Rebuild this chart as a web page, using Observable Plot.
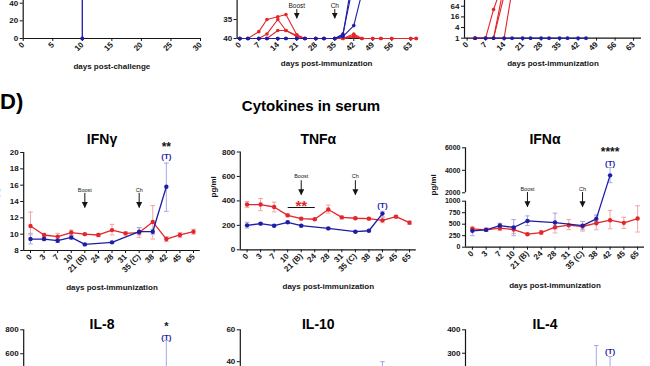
<!DOCTYPE html>
<html>
<head>
<meta charset="utf-8">
<script src="https://cdn.jsdelivr.net/npm/d3@7"></script>
<script src="https://cdn.jsdelivr.net/npm/@observablehq/plot@0.6"></script>
<style>
  html, body { margin: 0; padding: 0; background: #fff; }
  #fig { position: relative; width: 650px; height: 366px; overflow: hidden; background: #fff;
         font-family: "Liberation Sans", Arial, Helvetica, sans-serif; color: #151515; }
  #fig svg { position: absolute; left: 0; top: -100px; }
  .htxt { position: absolute; font-weight: bold; line-height: 1; white-space: nowrap; color: #000; }
</style>
</head>
<body>
<div id="fig">
  <div class="htxt" style="left:0px; top:91px; font-size:22px;">D)</div>
  <div class="htxt" style="left:311px; top:98px; font-size:15px; transform:translateX(-50%);">Cytokines in serum</div>
</div>
<script>
// ================= DATA =================
// top row, left: survival after challenge
const survDaysBlue = [0, 10];
const survBlue = [100, 0];
const survDaysRed = [0, 30];
const survRed = [100, 100];
const survTicksX = [0, 5, 10, 15, 20, 25, 30];
const survTicksY = [0, 20, 40];

// top row, middle: Ct values per animal
const ctDays = [0, 3, 7, 10, 14, 17, 21, 24, 28, 31, 35, 38, 42, 45, 49, 52, 56, 63, 65];
const ctRedA = [40, 40, 38.2, 35.0, 34.3, 33.7, 39.0, 40, 40, 40, 40, 40, 39.3, 40, 40, 40, 40, 40, 40];
const ctRedB = [40, 40, 40, 38.8, 35.0, 37.9, 39.2, 40, 40, 40, 40, 40, 38.8, 40, 40, 40, 40, 40, 40];
const ctRedC = [40, 40, 40, 40, 37.9, 37.9, 39.5, 40, 40, 40, 40, 40, 39.6, 40, 40, 40, 40, 40, 40];
const ctBlueA = [40, 40, 40, 40, 40, 40, 40, 40, 40, 40, 40, 39.5, 36.6, 28, null, null, null, null, null];
const ctBlueB = [40, 40, 40, 40, 40, 40, 40, 40, 40, 40, 40, 38.8, 25, null, null, null, null, null, null];
const ctBlueC = [40, 40, 40, 40, 40, 40, 40, 40, 40, 40, 40, 39.2, 22, null, null, null, null, null, null];
const ctTicksX = [0, 7, 14, 21, 28, 35, 42, 49, 56, 63];
const ctTicksY = [35, 40];
const topEvents = [{label: "Boost", day: 21}, {label: "Ch", day: 35}];

// top row, right: titers per animal (log2)
const titerDays = [3, 7, 10, 14, 17, 21, 24, 28, 31, 35, 38, 42, 45];
const titerRedA = [1, 1, 42, 2048, 4096, 4096, 4096, 2048, 2048, 2048, 4096, 4096, 4096];
const titerRedB = [1, 1, 1, 1024, 2048, 2048, 2048, 2048, 1024, 1024, 2048, 2048, 2048];
const titerRedC = [1, 1, 1, 256, 1024, 1024, 1024, 1024, 1024, 512, 1024, 1024, 1024];
const titerRedD = [1, 1, 1, 1, 512, 1024, 1024, 1024, 512, 512, 1024, 1024, 1024];
const titerBlue = [1, 1, 1, 1, 1, 1, 1, 1, 1, 1, 1, 1, 1];
const titerTicksX = [0, 7, 14, 21, 28, 35, 42, 49, 56, 63];
const titerTicksY = [1, 4, 16, 64];

// cytokines: sampling days (categorical)
const days = ["0", "3", "7", "10", "21 (B)", "24", "28", "31", "35 (C)", "38", "42", "45", "65"];
const events = [{label: "Boost", day: "21 (B)"}, {label: "Ch", day: "35 (C)"}];

// IFN-gamma
const ifngRed   = [11.0, 9.9, 9.7, 10.2, 10.0, 9.9, 10.5, 10.1, 10.2, 11.5, 9.4, 9.9, 10.3];
const ifngRedHi = [12.7, 10.1, 10.1, 10.5, 10.1, 10.1, 11.2, 10.3, 10.8, 13.5, 9.7, 10.2, 10.6];
const ifngRedLo = [9.9, 9.7, 9.4, 9.9, 9.9, 9.7, 9.9, 9.9, 9.6, 9.4, 9.1, 9.6, 10.0];
const ifngBlue   = [9.4, 9.4, 9.2, 9.6, 8.75, null, 9.0, null, 10.3, 10.3, 15.8, null, null];
const ifngBlueHi = [10.1, 9.6, 9.4, 9.8, 8.85, null, 9.1, null, 10.8, 10.6, 18.7, null, null];
const ifngBlueLo = [8.8, 9.2, 9.0, 9.4, 8.65, null, 8.9, null, 9.9, 10.0, 12.8, null, null];
const ifngTicks = [8, 10, 12, 14, 16, 18, 20];

// TNF-alpha
const tnfRed   = [370, 370, 350, 282, 255, 250, 330, 265, 258, 255, 241, 271, 222];
const tnfRedHi = [395, 420, 390, 295, 265, 258, 365, 275, 268, 265, 262, 282, 235];
const tnfRedLo = [345, 320, 310, 270, 245, 242, 300, 255, 248, 245, 222, 260, 208];
const tnfBlue   = [200, 214, 197, 225, 197, null, 175, null, 148, 156, 296, null, null];
const tnfBlueHi = [225, 222, 205, 233, 205, null, 182, null, 155, 163, 315, null, null];
const tnfBlueLo = [178, 206, 189, 217, 189, null, 168, null, 141, 149, 270, null, null];
const tnfTicks = [0, 200, 400, 600, 800];

// IFN-alpha (broken y axis: 0-1000 and 2000-6000)
const ifnaRed   = [400, 377, 413, 384, 283, 319, 435, 478, 450, 522, 587, 529, 623];
const ifnaRedHi = [440, 420, 470, 450, 305, 360, 550, 600, 560, 680, 800, 650, 900];
const ifnaRedLo = [360, 340, 360, 300, 260, 280, 310, 380, 350, 380, 400, 410, 330];
const ifnaBlue   = [355, 377, 471, 428, 572, null, 536, null, 470, 616, 3550, null, null];
const ifnaBlueHi = [400, 410, 520, 600, 680, null, 740, null, 560, 700, 4250, null, null];
const ifnaBlueLo = [250, 350, 420, 250, 470, null, 400, null, 380, 560, 2900, null, null];
const ifnaTicks = [0, 250, 500, 750, 1000, 2000, 4000, 6000];
const ifnaBreaks = [0, 1000, 2000, 6000];

// bottom row (only the upper part is in view)
const none = [null, null, null, null, null, null, null, null, null, null, null, null, null];
const il8Blue   = [null, null, null, null, null, null, null, null, null, null, 350, null, null];
const il8BlueHi = [null, null, null, null, null, null, null, null, null, null, 711, null, null];
const il8BlueLo = [null, null, null, null, null, null, null, null, null, null, 120, null, null];
const il8Ticks = [600, 800];
const il10Blue   = [null, null, null, null, null, null, null, null, null, null, 22, null, null];
const il10BlueHi = [null, null, null, null, null, null, null, null, null, null, 40, null, null];
const il10BlueLo = [null, null, null, null, null, null, null, null, null, null, 8, null, null];
const il10Ticks = [40, 60];
const il4Blue   = [null, null, null, null, null, null, null, null, null, 150, 190, null, null];
const il4BlueHi = [null, null, null, null, null, null, null, null, null, 333, 286, null, null];
const il4BlueLo = [null, null, null, null, null, null, null, null, null, 60, 100, null, null];
const il4Ticks = [300, 400];

// ================= DRAWING =================
const OFF = 100, W = 650, H = 466;
const FONT = '"Liberation Sans", Arial, Helvetica, sans-serif';
const RED = "#e2262b", RED_L = "#f2a4a4", BLUE = "#1d1da6", BLUE_L = "#a4a8e4", INK = "#151515";
const svgStyle = {background: "transparent", fontFamily: FONT, fontSize: "8px", fontWeight: "bold", color: INK, overflow: "visible"};
const downTri = {draw(ctx, size) { const s = Math.sqrt(size); ctx.moveTo(-s / 2, -s); ctx.lineTo(s / 2, -s); ctx.lineTo(0, 0); ctx.closePath(); }};

function box(x0, x1, yTop, yBottom) {
  return {width: W, height: H, marginLeft: x0, marginRight: W - x1, marginTop: yTop + OFF, marginBottom: 366 - yBottom};
}
const fig = document.getElementById("fig");
const add = (svg) => fig.appendChild(svg);

function series(xs, ys) {
  return xs.map((d, i) => ({d, v: ys[i]})).filter(r => r.v != null);
}

// ---- top left: survival ----
{
  const blue = series(survDaysBlue, survBlue), red = series(survDaysRed, survRed);
  add(Plot.plot({
    ...box(22.7, 200, -50.25, 38),
    style: svgStyle,
    x: {domain: [0, 30]}, y: {domain: [0, 100]},
    marks: [
      Plot.axisX({ticks: survTicksX, tickRotate: -45, tickSize: 3, tickPadding: 2, label: null}),
      Plot.axisY({ticks: survTicksY, tickSize: 3, tickPadding: 2, label: null}),
      Plot.ruleY([0], {stroke: INK, strokeWidth: 1.2}),
      Plot.ruleX([0], {stroke: INK, strokeWidth: 1.2}),
      Plot.line(red, {x: "d", y: "v", curve: "step-after", stroke: RED, strokeWidth: 1.3}),
      Plot.line(blue, {x: "d", y: "v", curve: "step-after", stroke: BLUE, strokeWidth: 1.3}),
      Plot.dot(blue, {x: "d", y: "v", r: 2, fill: BLUE}),
      Plot.text(["days post-challenge"], {frameAnchor: "bottom", dy: 30, fontSize: 8})
    ]
  }));
}

// ---- top middle: Ct ----
{
  const reds = [ctRedA, ctRedB, ctRedC].map(a => series(ctDays, a));
  const blues = [ctBlueA, ctBlueB, ctBlueC].map(a => series(ctDays, a));
  const marks = [
    Plot.axisX({ticks: ctTicksX, tickRotate: -45, tickSize: 3, tickPadding: 2, label: null}),
    Plot.axisY({ticks: ctTicksY, tickSize: 3, tickPadding: 2, label: null}),
    Plot.ruleY([40], {stroke: INK, strokeWidth: 1.2}),
    Plot.ruleX([-1], {stroke: INK, strokeWidth: 1.2})
  ];
  for (const s of reds) marks.push(Plot.line(s, {x: "d", y: "v", stroke: RED, strokeWidth: 1.1}), Plot.dot(s, {x: "d", y: "v", r: 1.8, fill: RED}));
  for (const s of blues) marks.push(Plot.line(s, {x: "d", y: "v", stroke: BLUE, strokeWidth: 1.1}), Plot.dot(s, {x: "d", y: "v", r: 1.8, fill: BLUE}));
  marks.push(
    Plot.ruleX(topEvents, {x: "day", y1: 32.4, y2: 34.8, stroke: INK, strokeWidth: 1}),
    Plot.dot(topEvents, {x: "day", y: 34.8, symbol: downTri, r: 3.2, fill: INK}),
    Plot.text(topEvents, {x: "day", y: 31.3, text: "label", fontSize: 6.5, fontWeight: "normal"}),
    Plot.text(["days post-immunization"], {frameAnchor: "bottom", dy: 27, fontSize: 8})
  );
  add(Plot.plot({...box(236.6, 415.7, -38, 38), style: svgStyle, x: {domain: [-1, 65]}, y: {domain: [40, 20]}, marks}));
}

// ---- top right: titers ----
{
  const reds = [titerRedA, titerRedB, titerRedC, titerRedD].map(a => series(titerDays, a));
  const blue = series(titerDays, titerBlue);
  const marks = [
    Plot.axisX({ticks: titerTicksX, tickRotate: -45, tickSize: 3, tickPadding: 2, label: null}),
    Plot.axisY({ticks: titerTicksY, tickSize: 3, tickPadding: 2, label: null, tickFormat: d => String(d)}),
    Plot.ruleY([1], {stroke: INK, strokeWidth: 1.2}),
    Plot.ruleX([-1], {stroke: INK, strokeWidth: 1.2})
  ];
  for (const s of reds) marks.push(Plot.line(s, {x: "d", y: "v", stroke: RED, strokeWidth: 1.1}), Plot.dot(s, {x: "d", y: "v", r: 1.8, fill: RED}));
  marks.push(Plot.line(blue, {x: "d", y: "v", stroke: BLUE, strokeWidth: 1.1}), Plot.dot(blue, {x: "d", y: "v", r: 1.9, fill: BLUE}));
  marks.push(Plot.text(["days post-immunization"], {frameAnchor: "bottom", dy: 27.3, fontSize: 8}));
  add(Plot.plot({...box(464, 641, -15.6, 37.7), style: svgStyle, x: {domain: [-1, 66]}, y: {type: "log", base: 2, domain: [1, 1024]}, marks}));
}

// ---- cytokine panels ----
function cytokinePanel(p) {
  const f = p.yMap || (v => v);
  const fv = v => (v == null ? null : f(v));
  const rows = days.map((d, i) => ({
    i,
    red: fv(p.red[i]), redHi: fv(p.redHi[i]), redLo: fv(p.redLo[i]),
    blue: fv(p.blue[i]), blueHi: fv(p.blueHi[i]), blueLo: fv(p.blueLo[i])
  }));
  const tickPos = p.yTicks.map(f);
  const tickLabel = new Map(p.yTicks.map(t => [f(t), String(t)]));
  const groups = [["red", RED, RED_L], ["blue", BLUE, BLUE_L]];
  const marks = [
    Plot.axisY({ticks: tickPos, tickSize: 3, tickPadding: 2, label: null, fontSize: p.yFont || 8, tickFormat: d => tickLabel.get(d)})
  ];
  if (!p.noX) marks.push(Plot.axisX({ticks: d3.range(days.length), tickFormat: i => days[i], tickRotate: -45, tickSize: 3, tickPadding: 2, label: null}));
  else marks.push(Plot.axisX({ticks: [], label: null}));
  const segs = p.axisSegments || [null];
  for (const s of segs) {
    marks.push(s ? Plot.ruleX([-0.5], {y1: f(s[0]), y2: f(s[1]), stroke: INK, strokeWidth: 1.2}) : Plot.ruleX([-0.5], {stroke: INK, strokeWidth: 1.2}));
  }
  marks.push(Plot.ruleY([f(p.yMin)], {stroke: INK, strokeWidth: 1.2}));
  for (const [k, c, cl] of groups) {
    const err = rows.filter(r => r[k] != null && r[k + "Hi"] != null);
    marks.push(
      Plot.ruleX(err, {x: "i", y1: k + "Lo", y2: k + "Hi", stroke: cl, strokeWidth: 1}),
      Plot.link(err, {x1: r => r.i - 0.17, x2: r => r.i + 0.17, y1: k + "Hi", y2: k + "Hi", stroke: cl, strokeWidth: 1}),
      Plot.link(err, {x1: r => r.i - 0.17, x2: r => r.i + 0.17, y1: k + "Lo", y2: k + "Lo", stroke: cl, strokeWidth: 1})
    );
  }
  for (const [k, c] of groups) {
    const pts = rows.filter(r => r[k] != null);
    marks.push(
      Plot.line(pts, {x: "i", y: k, stroke: c, strokeWidth: 1.3}),
      Plot.dot(pts, {x: "i", y: k, r: 2.2, fill: c})
    );
  }
  if (p.arrow) {
    const ev = events.map(e => ({i: days.indexOf(e.day), label: e.label}));
    marks.push(
      Plot.ruleX(ev, {x: "i", y1: f(p.arrow.top), y2: f(p.arrow.tip), stroke: INK, strokeWidth: 1}),
      Plot.dot(ev, {x: "i", y: f(p.arrow.tip), symbol: downTri, r: 3.4, fill: INK}),
      Plot.text(ev, {x: "i", y: f(p.arrow.text), text: "label", fontSize: 5.5, fontWeight: "normal"})
    );
  }
  if (p.bracket) {
    const b = p.bracket;
    marks.push(
      Plot.link([b], {x1: "from", x2: "to", y1: d => f(d.value), y2: d => f(d.value), stroke: INK, strokeWidth: 1}),
      Plot.text([b], {x: d => (d.from + d.to) / 2, y: d => f(d.value), text: "text", dy: -1, fill: b.fill, fontSize: 15})
    );
  }
  for (const n of (p.notes || [])) {
    marks.push(Plot.text([n], {x: "i", y: d => rows[d.i][d.at], text: "text", dy: n.dy, fill: n.fill, fontSize: n.size}));
  }
  marks.push(Plot.text([p.title], {frameAnchor: "top", dx: -10, dy: p.titleDy, fontSize: 14, fill: "#000"}));
  if (p.xLabelDy != null) {
    marks.push(
      Plot.text(["days post-immunization"], {frameAnchor: "bottom", dy: p.xLabelDy, fontSize: 8}),
      Plot.text(["pg/ml"], {frameAnchor: "left", rotate: -90, dx: p.yLabelDx, dy: p.yLabelDy, fontSize: 8})
    );
  }
  const [x0, x1, yTop, yBottom] = p.box;
  return Plot.plot({
    ...box(x0, x1, yTop, yBottom),
    style: svgStyle,
    x: {domain: [-0.5, days.length - 0.5]},
    y: {domain: [f(p.yMin), f(p.yMax)]},
    marks
  });
}

add(cytokinePanel({
  title: "IFNγ", titleDy: -18.7, box: [23.2, 199.8, 152, 250],
  red: ifngRed, redHi: ifngRedHi, redLo: ifngRedLo, blue: ifngBlue, blueHi: ifngBlueHi, blueLo: ifngBlueLo,
  yMin: 8, yMax: 20, yTicks: ifngTicks,
  arrow: {text: 15.4, top: 15.0, tip: 13.2},
  notes: [
    {i: 10, at: "blueHi", text: "(T)", dy: -6.2, fill: BLUE, size: 8},
    {i: 10, at: "blueHi", text: "**", dy: -16, fill: INK, size: 12}
  ],
  xLabelDy: 39, yLabelDx: -28, yLabelDy: -4
}));

add(cytokinePanel({
  title: "TNFα", titleDy: -17.5, box: [239.8, 415.8, 151.5, 249.3],
  red: tnfRed, redHi: tnfRedHi, redLo: tnfRedLo, blue: tnfBlue, blueHi: tnfBlueHi, blueLo: tnfBlueLo,
  yMin: 0, yMax: 800, yTicks: tnfTicks,
  arrow: {text: 603, top: 565, tip: 447},
  bracket: {from: 3, to: 5, value: 346, text: "**", fill: RED},
  notes: [
    {i: 10, at: "blueHi", text: "(T)", dy: -6, fill: BLUE, size: 8}
  ],
  xLabelDy: 38.7, yLabelDx: -27, yLabelDy: -3.4
}));

// piecewise (broken) axis for IFN-alpha: pixel heights of the two segments and the gap
const ifnaMap = d3.scaleLinear().domain(ifnaBreaks).range([0, 46, 54.4, 99.4]);
add(cytokinePanel({
  title: "IFNα", titleDy: -13.8, box: [465, 644, 147.3, 246.7],
  red: ifnaRed, redHi: ifnaRedHi, redLo: ifnaRedLo, blue: ifnaBlue, blueHi: ifnaBlueHi, blueLo: ifnaBlueLo,
  yMap: ifnaMap, yMin: 0, yMax: 6000, yTicks: ifnaTicks, yFont: 7,
  axisSegments: [[ifnaBreaks[0], ifnaBreaks[1]], [ifnaBreaks[2], ifnaBreaks[3]]],
  arrow: {text: 2356, top: 2027, tip: 870},
  notes: [
    {i: 10, at: "blueHi", text: "(T)", dy: -4.5, fill: BLUE, size: 8},
    {i: 10, at: "blueHi", text: "****", dy: -15, fill: INK, size: 12}
  ],
  xLabelDy: 40.3, yLabelDx: -32, yLabelDy: -2
}));

add(cytokinePanel({
  title: "IL-8", titleDy: -10.8, box: [23.2, 199.8, 329.3, 425], noX: true,
  red: none, redHi: none, redLo: none, blue: il8Blue, blueHi: il8BlueHi, blueLo: il8BlueLo,
  yMin: 0, yMax: 800, yTicks: il8Ticks,
  notes: [
    {i: 10, at: "blueHi", text: "(T)", dy: -3, fill: BLUE, size: 8},
    {i: 10, at: "blueHi", text: "*", dy: -14, fill: INK, size: 11}
  ]
}));

add(cytokinePanel({
  title: "IL-10", titleDy: -10.8, box: [239.8, 415.8, 329.3, 425], noX: true,
  red: none, redHi: none, redLo: none, blue: il10Blue, blueHi: il10BlueHi, blueLo: il10BlueLo,
  yMin: 0, yMax: 60, yTicks: il10Ticks
}));

add(cytokinePanel({
  title: "IL-4", titleDy: -10.8, box: [465, 644, 329.3, 423], noX: true,
  red: none, redHi: none, redLo: none, blue: il4Blue, blueHi: il4BlueHi, blueLo: il4BlueLo,
  yMin: 0, yMax: 400, yTicks: il4Ticks,
  notes: [
    {i: 10, at: "blueHi", text: "(T)", dy: -5, fill: BLUE, size: 8}
  ]
}));
</script>
</body>
</html>
